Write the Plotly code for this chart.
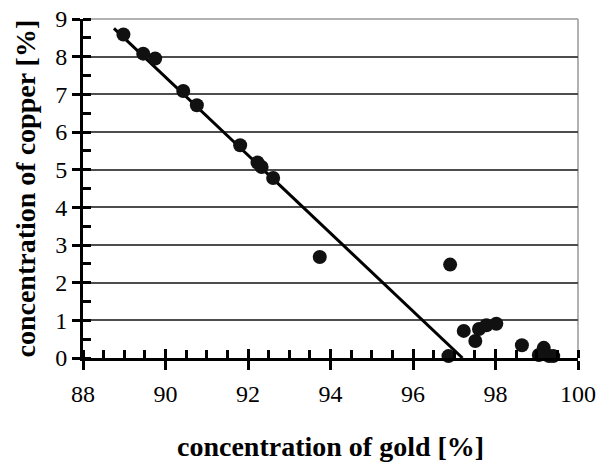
import plotly.graph_objects as go

gold = [88.98, 89.46, 89.75, 90.43, 90.76, 91.81, 92.23, 92.33, 92.61, 93.74,
        96.9, 96.86, 97.23, 97.51, 97.6, 97.78, 98.02, 98.64, 99.17, 99.2,
        99.3, 99.4, 99.05]
copper = [8.59, 8.08, 7.95, 7.09, 6.71, 5.65, 5.19, 5.07, 4.78, 2.68,
          2.48, 0.05, 0.72, 0.45, 0.77, 0.87, 0.91, 0.34, 0.27, 0.1,
          0.05, 0.05, 0.08]

fit_gold = [88.75, 97.2]
fit_copper = [8.75, 0.0]

xticks = [88, 90, 92, 94, 96, 98, 100]
yticks = [0, 1, 2, 3, 4, 5, 6, 7, 8, 9]

x_title = "concentration of gold [%]"
y_title = "concentration of copper [%]"

FONT = "Liberation Serif"

fig = go.Figure()
fig.add_trace(go.Scatter(x=fit_gold, y=fit_copper, mode="lines",
                         line=dict(color="black", width=3), showlegend=False,
                         cliponaxis=False))
fig.add_trace(go.Scatter(x=gold, y=copper, mode="markers",
                         marker=dict(color="#111111", size=14), showlegend=False,
                         cliponaxis=False))
fig.add_trace(go.Scatter(x=[88], y=[0], xaxis="x2", yaxis="y2", mode="markers",
                         marker=dict(opacity=0), showlegend=False, hoverinfo="skip"))

fig.update_layout(
    width=597, height=462,
    margin=dict(l=83, r=19, t=19, b=104),
    paper_bgcolor="white", plot_bgcolor="white",
    font=dict(family=FONT, color="black"),
    xaxis=dict(
        range=[88, 100], tickvals=xticks, ticktext=[str(v) for v in xticks],
        showgrid=False, zeroline=False, automargin=False,
        ticklabeloverflow="allow",
        showline=True, linecolor="black", linewidth=3,
        ticks="outside", ticklen=9, tickwidth=3, tickcolor="black",
        tickfont=dict(family=FONT, size=24, color="black"),
        ticklabelstandoff=3,
        minor=dict(dtick=0.5, tick0=88, ticks="inside", ticklen=8, tickwidth=3,
                   tickcolor="black", showgrid=False),
    ),
    yaxis=dict(
        range=[0, 9], tickvals=yticks, ticktext=[str(v) for v in yticks],
        showgrid=True, gridcolor="#4d4d4d", gridwidth=1.5, zeroline=False,
        automargin=False, ticklabeloverflow="allow",
        showline=True, linecolor="black", linewidth=3,
        ticks="outside", ticklen=8, tickwidth=3, tickcolor="black",
        tickfont=dict(family=FONT, size=24, color="black"),
        minor=dict(dtick=0.5, tick0=0, ticks="inside", ticklen=8, tickwidth=3,
                   tickcolor="black", showgrid=False),
    ),
    xaxis2=dict(range=[88, 100], overlaying="x", anchor="y", side="bottom",
                tickvals=xticks, ticks="inside", ticklen=9, tickwidth=3,
                tickcolor="black", showticklabels=False, showgrid=False,
                zeroline=False, showline=False, automargin=False),
    yaxis2=dict(range=[0, 9], overlaying="y", anchor="x", side="left",
                tickvals=yticks, ticks="inside", ticklen=8, tickwidth=3,
                tickcolor="black", showticklabels=False, showgrid=False,
                zeroline=False, showline=False, automargin=False),
    shapes=[
        dict(type="line", xref="paper", yref="paper", x0=1, x1=1, y0=0, y1=1,
             line=dict(color="#999999", width=1.5), layer="below"),
        dict(type="line", xref="paper", yref="paper", x0=0, x1=1, y0=1, y1=1,
             line=dict(color="#999999", width=1.5), layer="below"),
    ],
    annotations=[
        dict(text="<b>" + x_title + "</b>", xref="paper", yref="paper",
             x=0.5, y=0, xanchor="center", yanchor="middle", yshift=-88,
             showarrow=False, font=dict(family=FONT, size=28, color="black")),
        dict(text="<b>" + y_title + "</b>", xref="paper", yref="paper",
             x=0, y=0.5, xanchor="center", yanchor="middle", xshift=-58,
             textangle=-90, showarrow=False,
             font=dict(family=FONT, size=28, color="black")),
    ],
)

fig.write_html(
    "out.html",
    config={"displayModeBar": False},
    post_script="document.body.style.margin='0';document.body.style.overflow='hidden';",
)
